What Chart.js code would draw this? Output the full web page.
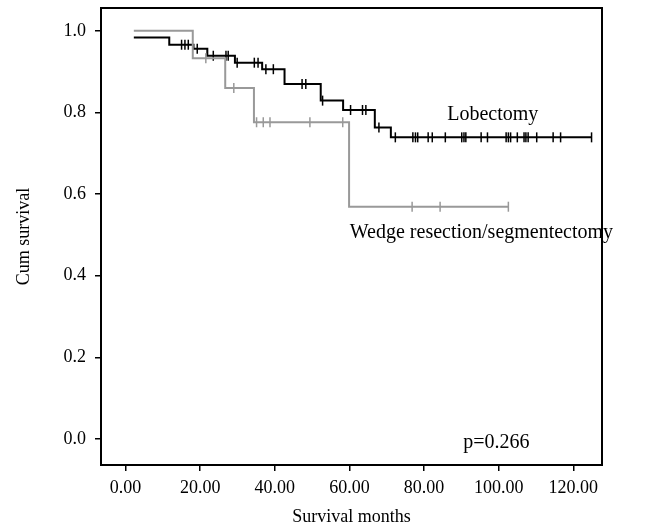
<!DOCTYPE html>
<html>
<head>
<meta charset="utf-8">
<script src="https://cdn.jsdelivr.net/npm/chart.js@4/dist/chart.umd.min.js"></script>
<style>
  html, body { margin: 0; padding: 0; background: #fff; }
  #wrap { width: 655px; height: 528px; position: relative; }
</style>
</head>
<body>
<div id="wrap"><canvas id="c" width="655" height="528"></canvas></div>
<script>
// ---- data ----
const timeTicks = [0, 20, 40, 60, 80, 100, 120];
const survTicks = [0, 0.2, 0.4, 0.6, 0.8, 1.0];

const lobEventTimes = [2.2, 11.7, 18.2, 21.9, 29.3, 36.6, 42.6, 52.3, 58.3, 66.8, 71.1];
const lobSurvival   = [0.984, 0.966, 0.956, 0.939, 0.922, 0.906, 0.870, 0.829, 0.806, 0.763, 0.739];
const lobCensored   = [15.0, 15.9, 16.8, 19.2, 23.5, 26.9, 27.5, 29.9, 34.5, 35.5, 37.6, 39.6,
                       47.3, 48.3, 52.8, 60.3, 63.5, 64.4, 67.9, 72.3, 77.0, 77.7, 78.3, 81.1,
                       82.2, 85.7, 90.1, 90.7, 91.2, 95.3, 97.0, 102.0, 102.6, 103.2, 105.0,
                       106.8, 107.3, 107.9, 110.2, 114.6, 116.6, 124.9];

const wedgeEventTimes = [2.2, 18.0, 26.7, 34.4, 59.9];
const wedgeSurvival   = [1.0, 0.933, 0.860, 0.776, 0.569];
const wedgeCensored   = [21.5, 29.0, 35.1, 36.9, 38.7, 49.4, 58.2, 76.8, 84.3, 102.6];

const groupNames = ['Lobectomy', 'Wedge resection/segmentectomy'];
const pValueText = 'p=0.266';

// ---- helpers ----
function survivalAt(times, surv, t) {
  let s = surv[0];
  for (let i = 0; i < times.length; i++) { if (times[i] <= t) s = surv[i]; }
  return s;
}
function stepData(times, surv, censored) {
  const pts = times.map((t, i) => ({ x: t, y: surv[i] }));
  const last = Math.max(...censored);
  if (last > times[times.length - 1]) pts.push({ x: last, y: surv[surv.length - 1] });
  return pts;
}
function censorData(times, surv, censored) {
  return censored.map(t => ({ x: t, y: survivalAt(times, surv, t) }));
}

const FONT = 'Liberation Serif, "Times New Roman", serif';
const BLACK = '#000000';
const GRAY = '#999999';

const labelPlugin = {
  id: 'kmLabels',
  afterDraw(chart) {
    const { ctx, chartArea, scales } = chart;
    ctx.save();
    ctx.strokeStyle = BLACK;
    ctx.lineWidth = 2;
    ctx.strokeRect(chartArea.left, chartArea.top, chartArea.right - chartArea.left, chartArea.bottom - chartArea.top);
    ctx.fillStyle = BLACK;
    ctx.font = '20px ' + FONT;
    ctx.textBaseline = 'alphabetic';
    ctx.textAlign = 'left';
    const place = [
      [groupNames[0], 86.2, 0.782],
      [groupNames[1], 60.1, 0.493],
      [pValueText, 90.5, -0.022]
    ];
    place.forEach(([txt, x, y]) => {
      ctx.fillText(txt, scales.x.getPixelForValue(x), scales.y.getPixelForValue(y));
    });
    ctx.restore();
  }
};

new Chart(document.getElementById('c'), {
  type: 'scatter',
  data: {
    datasets: [
      {
        label: groupNames[1] + ' curve',
        data: stepData(wedgeEventTimes, wedgeSurvival, wedgeCensored),
        showLine: true, stepped: true,
        borderColor: GRAY, borderWidth: 2, pointRadius: 0, fill: false
      },
      {
        label: groupNames[1] + ' censored',
        data: censorData(wedgeEventTimes, wedgeSurvival, wedgeCensored),
        showLine: false, pointStyle: 'line', rotation: 90, pointRadius: 5,
        borderColor: GRAY, pointBorderWidth: 1.5, backgroundColor: GRAY
      },
      {
        label: groupNames[0] + ' curve',
        data: stepData(lobEventTimes, lobSurvival, lobCensored),
        showLine: true, stepped: true,
        borderColor: BLACK, borderWidth: 2, pointRadius: 0, fill: false
      },
      {
        label: groupNames[0] + ' censored',
        data: censorData(lobEventTimes, lobSurvival, lobCensored),
        showLine: false, pointStyle: 'line', rotation: 90, pointRadius: 5,
        borderColor: BLACK, pointBorderWidth: 1.5, backgroundColor: BLACK
      }
    ]
  },
  options: {
    responsive: false,
    animation: false,
    events: [],
    layout: { padding: { top: 8, right: 53, left: 0, bottom: 0 } },
    plugins: { legend: { display: false }, tooltip: { enabled: false } },
    scales: {
      x: {
        type: 'linear', min: -6.6, max: 127.7,
        afterBuildTicks: s => { s.ticks = timeTicks.map(v => ({ value: v })); },
        afterFit: s => { s.height = 63; s.paddingLeft = 0; s.paddingRight = 0; },
        border: { display: false },
        grid: { display: true, drawOnChartArea: false, drawTicks: true, tickLength: 6, tickColor: BLACK, lineWidth: 1.5 },
        ticks: { color: BLACK, font: { family: FONT, size: 18 }, padding: 6, maxRotation: 0,
                 callback: v => Number(v).toFixed(2) },
        title: { display: true, text: 'Survival months', color: BLACK,
                 font: { family: FONT, size: 18 }, padding: { top: 0, bottom: 0 } }
      },
      y: {
        type: 'linear', min: -0.064, max: 1.056,
        afterBuildTicks: s => { s.ticks = survTicks.map(v => ({ value: v })); },
        afterFit: s => { s.width = 101; s.paddingTop = 0; s.paddingBottom = 0; },
        border: { display: false },
        grid: { display: true, drawOnChartArea: false, drawTicks: true, tickLength: 6, tickColor: BLACK, lineWidth: 1.5 },
        ticks: { color: BLACK, font: { family: FONT, size: 18 }, padding: 9,
                 callback: v => Number(v).toFixed(1) },
        title: { display: true, text: 'Cum survival', color: BLACK,
                 font: { family: FONT, size: 18 }, padding: { top: 13, bottom: 0 } }
      }
    }
  },
  plugins: [labelPlugin]
});
</script>
</body>
</html>
